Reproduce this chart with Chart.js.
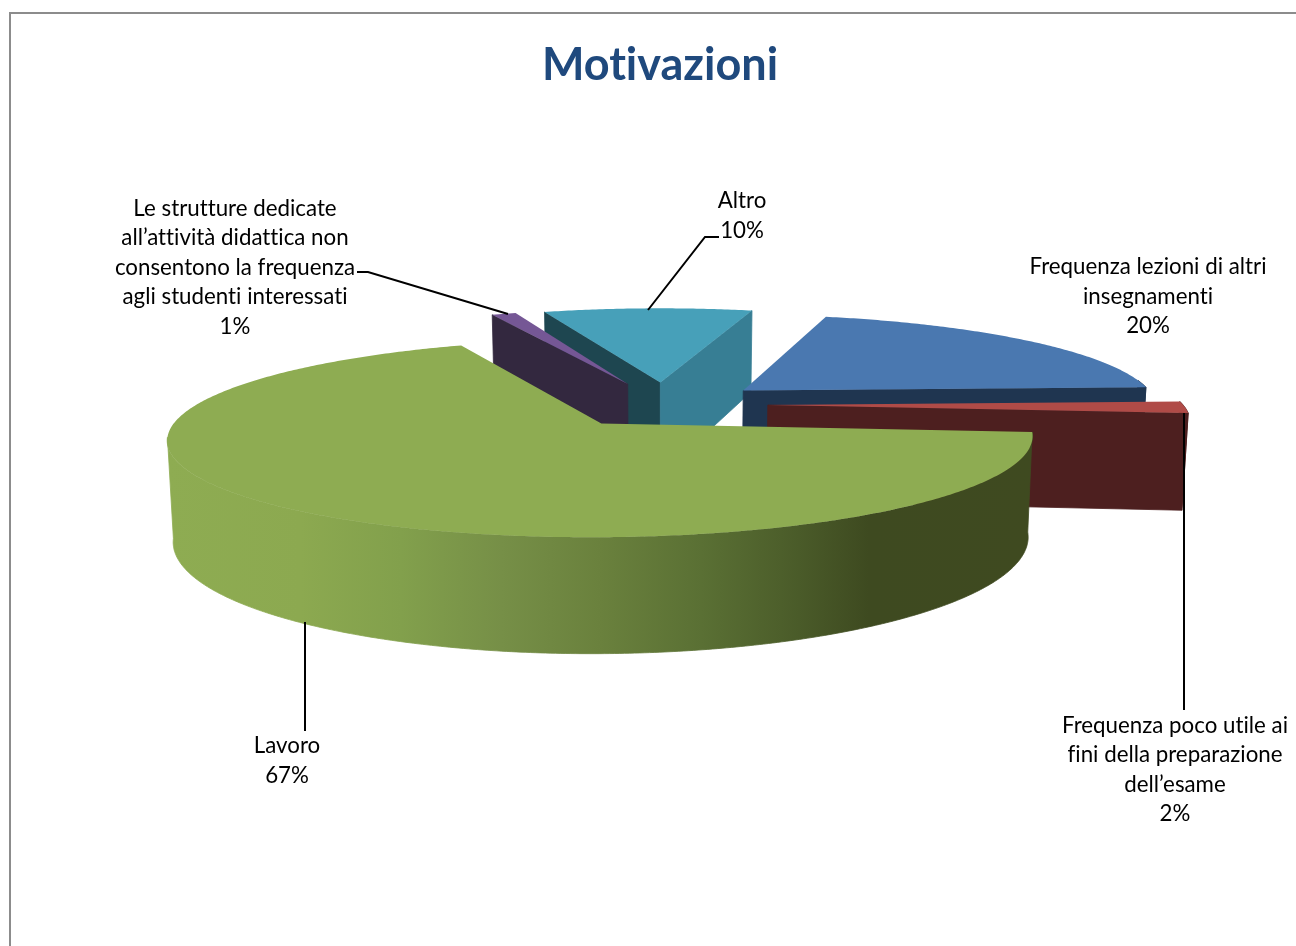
<!DOCTYPE html>
<html lang="it">
<head>
<meta charset="utf-8">
<title>Motivazioni</title>
<script src="https://cdn.jsdelivr.net/npm/chart.js@4/dist/chart.umd.js"></script>
<style>
  html, body { margin: 0; padding: 0; background: #fff; overflow: hidden; }
  canvas { display: block; }
</style>
</head>
<body>
<canvas id="chart" width="1296" height="946"></canvas>
<script>
// data
var categories = [
  'Frequenza lezioni di altri insegnamenti',
  'Frequenza poco utile ai fini della preparazione dell’esame',
  'Lavoro',
  'Le strutture dedicate all’attività didattica non consentono la frequenza agli studenti interessati',
  'Altro'
];
var values = [20.2, 2, 67.2, 1.1, 9.5];
var titleText = 'Motivazioni';

// colours
var topColors  = ['#4A78B0', '#B04B47', '#8EAC52', '#755795', '#47A0B9'];
var faceColors = ['#1F3550', '#4D1F1F', '#3F4A20', '#33283F', '#1E4650'];
var rightFaceColors = ['#1F3550', '#4D1F1F', '#3F4A20', '#33283F', '#377E94'];

// label layout, index matches categories
var labelLayout = [
  { x: 1148, y: 267, lines: ['Frequenza lezioni di altri', 'insegnamenti'], leader: null },
  { x: 1175, y: 725.5, lines: ['Frequenza poco utile ai', 'fini della preparazione', 'dell’esame'],
    leader: [[1184, 413], [1184, 710]] },
  { x: 287, y: 746, lines: ['Lavoro'], leader: [[305, 622], [305, 731]] },
  { x: 235, y: 208.5, lines: ['Le strutture dedicate', 'all’attività didattica non', 'consentono la frequenza', 'agli studenti interessati'],
    leader: [[508, 314], [368, 272], [357, 272]] },
  { x: 742, y: 201, lines: ['Altro'], leader: [[648, 310], [705, 237], [719, 237]] }
];

// 3d view
var view = { cx: 664, cy: 404.5, rx: 415, ry: 91, persp: 0.146, drop: 96, shrink: 0.988, explode: 0.25 };
var paintOrder = [4, 3, 0, 1, 2];

function project(x, y, down) {
  var w = 1 + view.persp * y;
  if (down) {
    return [view.cx + view.rx * view.shrink * x / w, view.cy + (-view.ry * y + view.drop) / w];
  }
  return [view.cx + view.rx * x / w, view.cy - view.ry * y / w];
}

function poly(ctx, pts, fill, seal) {
  ctx.beginPath();
  pts.forEach(function(p, i) { i ? ctx.lineTo(p[0], p[1]) : ctx.moveTo(p[0], p[1]); });
  ctx.closePath();
  ctx.fillStyle = fill;
  ctx.fill();
  if (seal) {
    // hides the hairline between neighbouring polygons
    ctx.strokeStyle = fill;
    ctx.lineWidth = 0.8;
    ctx.stroke();
  }
}

function drawSlice(ctx, arc, i) {
  // chart.js angles run clockwise from the x axis, the view uses math angles
  var hi = -arc.startAngle, lo = -arc.endAngle;
  var mid = (lo + hi) / 2;
  var ox = view.explode * Math.cos(mid), oy = view.explode * Math.sin(mid);
  var rim = function(a) { return [ox + Math.cos(a), oy + Math.sin(a)]; };
  var steps = Math.max(2, Math.ceil((hi - lo) / 0.01));
  var topPts = [project(ox, oy, false)];
  var wallTop = [], wallBottom = [];
  for (var s = 0; s <= steps; s++) {
    var a = lo + (hi - lo) * s / steps;
    var p = rim(a);
    topPts.push(project(p[0], p[1], false));
    // left side starts at the silhouette so the outline stays straight
    var limit = Math.cos(a) < 0 ? -0.14 : 0.12;
    if (Math.sin(a) < limit) {
      wallTop.push(project(p[0], p[1], false));
      wallBottom.unshift(project(p[0], p[1], true));
    }
  }

  if (wallTop.length > 1) {
    var wallFill = faceColors[i];
    if (i === 2) {
      var g = ctx.createLinearGradient(167, 0, 1033, 0);
      g.addColorStop(0, '#8EAC52');
      g.addColorStop(0.154, '#8CA950');
      g.addColorStop(0.27, '#82A04C');
      g.addColorStop(0.386, '#768F47');
      g.addColorStop(0.5, '#6A813D');
      g.addColorStop(0.617, '#5A7034');
      g.addColorStop(0.73, '#4A5B29');
      g.addColorStop(0.81, '#3E4A20');
      g.addColorStop(1, '#3F4A20');
      wallFill = g;
    }
    poly(ctx, wallTop.concat(wallBottom), wallFill, true);
  }

  // cut faces, only the ones turned to the camera
  var face = function(a, color) {
    var p = rim(a);
    poly(ctx, [project(ox, oy, false), project(p[0], p[1], false), project(p[0], p[1], true), project(ox, oy, true)], color, true);
  };
  if (Math.cos(hi) < 0) face(hi, faceColors[i]);
  if (Math.cos(lo) > 0) face(lo, rightFaceColors[i]);

  poly(ctx, topPts, arc.options.backgroundColor, false);
}

class Pie3dController extends Chart.PieController {
  draw() {
    var ctx = this.chart.ctx, arcs = this.getMeta().data;
    ctx.save();
    paintOrder.forEach(function(i) { drawSlice(ctx, arcs[i], i); });
    ctx.restore();
  }
}
Pie3dController.id = 'pie3d';
Pie3dController.defaults = Chart.PieController.defaults;
Chart.register(Pie3dController);

var framePlugin = {
  id: 'frame',
  beforeDraw: function(chart) {
    var ctx = chart.ctx;
    // no tt/ti ligatures, the reference font has none
    ctx.textRendering = 'optimizeSpeed';
    ctx.save();
    ctx.strokeStyle = '#8C8C8C';
    ctx.lineWidth = 2;
    ctx.strokeRect(10, 13, 1400, 1100);
    ctx.restore();
  }
};

var labelPlugin = {
  id: 'sliceLabels',
  afterDatasetsDraw: function(chart) {
    var ctx = chart.ctx;
    ctx.save();
    ctx.font = '22.3px Lato, "Open Sans", sans-serif';
    ctx.fillStyle = '#000';
    ctx.strokeStyle = '#000';
    ctx.lineWidth = 2;
    ctx.textAlign = 'center';
    ctx.textBaseline = 'middle';
    labelLayout.forEach(function(l, i) {
      if (l.leader) {
        ctx.beginPath();
        l.leader.forEach(function(p, k) { k ? ctx.lineTo(p[0], p[1]) : ctx.moveTo(p[0], p[1]); });
        ctx.stroke();
      }
      var rows = l.lines.concat([Math.round(values[i]) + '%']);
      rows.forEach(function(t, k) { ctx.fillText(t, l.x, l.y + k * 29.5); });
    });
    ctx.restore();
  }
};

new Chart(document.getElementById('chart'), {
  type: 'pie3d',
  data: {
    labels: categories,
    datasets: [{ data: values, backgroundColor: topColors, borderWidth: 0 }]
  },
  options: {
    responsive: false,
    animation: false,
    rotation: 15,
    layout: { padding: { left: 24, top: 38 } },
    plugins: {
      legend: { display: false },
      tooltip: { enabled: false },
      title: {
        display: true,
        text: titleText,
        color: '#1F497D',
        font: { family: 'Lato, "Open Sans", sans-serif', size: 45, weight: 'bold' },
        padding: 0
      }
    }
  },
  plugins: [framePlugin, labelPlugin]
});
</script>
</body>
</html>
